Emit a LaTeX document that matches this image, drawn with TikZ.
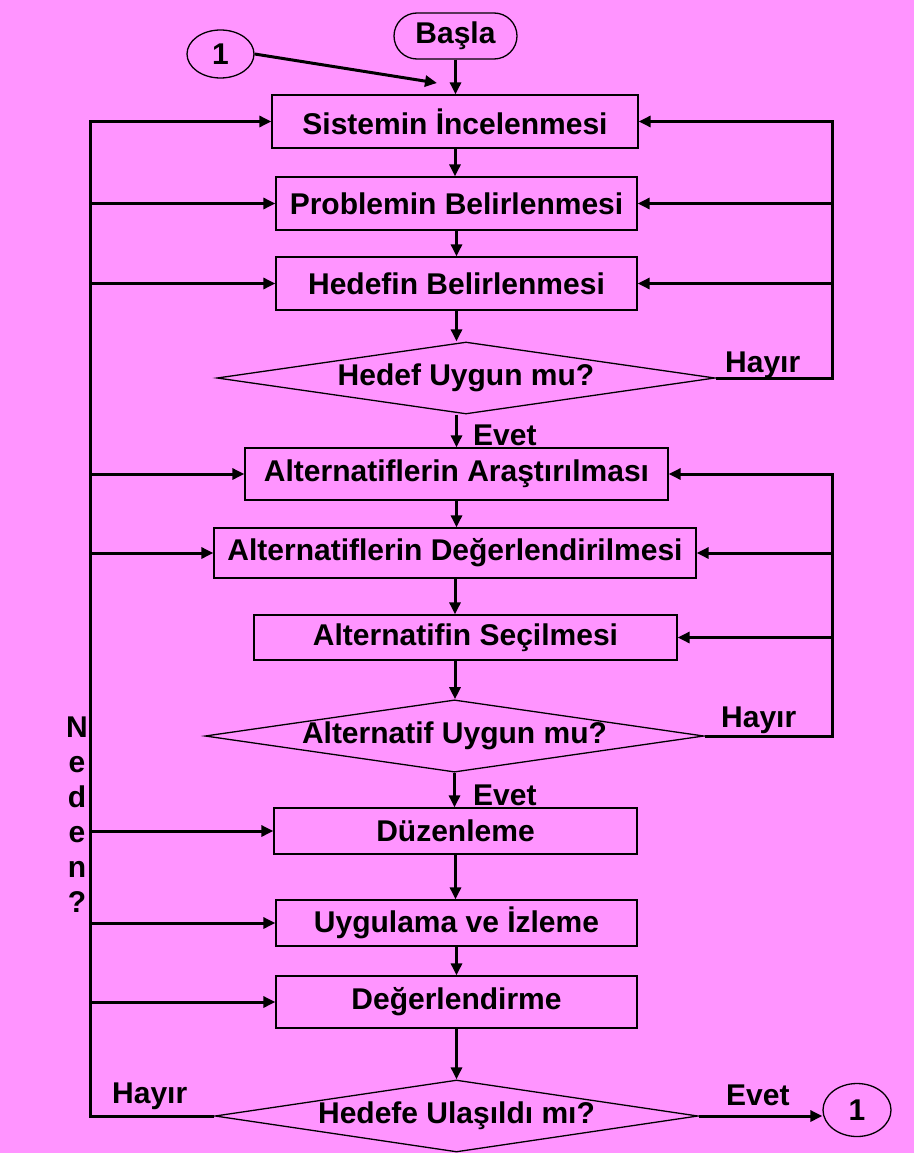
\documentclass[tikz,border=0pt]{standalone}
\usepackage{fontspec}
\setmainfont{Liberation Sans}
\usetikzlibrary{shapes.geometric,arrows.meta}
\definecolor{bgpink}{RGB}{255,148,255}
\begin{document}
\begin{tikzpicture}[x=1pt,y=-1pt,
  txt/.style={font=\fontsize{30}{35}\selectfont\bfseries},
  stepbox/.style={txt, draw, line width=1.3pt, rectangle, inner sep=0pt},
  decision/.style={txt, draw, line width=1.3pt, diamond, inner sep=0pt},
  terminal/.style={txt, draw, line width=1.3pt, inner sep=0pt},
  conn/.style={line width=3pt},
  arr/.style={conn, -{Triangle[length=12pt,width=11pt]}},
  lbl/.style={txt, inner sep=0pt, anchor=base west}]
\fill[bgpink] (0,0) rectangle (914,1153);
\useasboundingbox (0,0) rectangle (914,1153);

% x positions of the two feedback rails
\coordinate (L) at (90,0);
\coordinate (R) at (832,0);

% start and connector markers
\node[terminal, rounded corners=23pt, minimum width=123pt, minimum height=46pt] (start) at (455.5,36) {Başla};
\node[terminal, ellipse, minimum width=67pt, minimum height=48pt] (c1) at (220.5,54) {1};
\coordinate (j) at (437,83);

% process steps and decisions
\node[stepbox, minimum width=366pt, minimum height=53pt] (b1) at (455,121.5) {Sistemin İncelenmesi};
\node[stepbox, minimum width=361pt, minimum height=53pt] (b2) at (456.5,203.5) {Problemin Belirlenmesi};
\node[stepbox, minimum width=361pt, minimum height=53pt] (b3) at (456.5,283.5) {Hedefin Belirlenmesi};
\node[decision, aspect=6.9, minimum width=498pt, minimum height=72pt] (d1) at (466,378) {Hedef Uygun mu?};
\node[stepbox, minimum width=423pt, minimum height=52pt] (b4) at (456.5,474) {Alternatiflerin Araştırılması};
\node[stepbox, minimum width=482pt, minimum height=50pt] (b5) at (455,553) {Alternatiflerin Değerlendirilmesi};
\node[stepbox, minimum width=423pt, minimum height=45pt] (b6) at (465.5,637.5) {Alternatifin Seçilmesi};
\node[decision, aspect=6.9, minimum width=497pt, minimum height=72pt] (d2) at (454.5,736) {Alternatif Uygun mu?};
\node[stepbox, minimum width=363pt, minimum height=46pt] (b7) at (455.5,831) {Düzenleme};
\node[stepbox, minimum width=361pt, minimum height=46pt] (b8) at (456.5,923) {Uygulama ve İzleme};
\node[stepbox, minimum width=361pt, minimum height=52pt] (b9) at (456.5,1002) {Değerlendirme};
\node[decision, aspect=6.7, minimum width=483pt, minimum height=72pt] (d3) at (456.5,1116) {Hedefe Ulaşıldı mı?};
\node[terminal, ellipse, minimum width=68pt, minimum height=53pt] (c2) at (857,1110) {1};

% main flow
\draw[arr] (start.south) -- (start.south |- b1.north);
\draw[arr] (c1.east) -- (j);
\draw[arr] (b1.south) -- (b1.south |- b2.north);
\draw[arr] (b2.south) -- (b2.south |- b3.north);
\draw[arr] (b3.south) -- (b3.south |- d1.north);
\draw[arr] (b4.north |- d1.south) -- (b4.north);
\draw[arr] (b4.south) -- (b4.south |- b5.north);
\draw[arr] (b5.south) -- (b5.south |- b6.north);
\draw[arr] (b6.south -| b5.south) -- (b5.south |- d2.north);
\draw[arr] (d2.south) -- (d2.south |- b7.north);
\draw[arr] (b7.south) -- (b7.south |- b8.north);
\draw[arr] (b8.south) -- (b8.south |- b9.north);
\draw[arr] (b9.south) -- (b9.south |- d3.north);
\draw[arr] (d3.east) -- (d3.east -| c2.west);

% right-hand loops
\draw[arr] (d1.east) -- (d1.east -| R) -- (R |- b1.east) -- (b1.east);
\draw[arr] (R |- b2.east) -- (b2.east);
\draw[arr] (R |- b3.east) -- (b3.east);
\draw[arr] (d2.east) -- (d2.east -| R) -- (R |- b4.east) -- (b4.east);
\draw[arr] (R |- b5.east) -- (b5.east);
\draw[arr] (R |- b6.east) -- (b6.east);

% left-hand loop
\draw[arr] (d3.west) -- (d3.west -| L) -- (L |- b1.west) -- (b1.west);
\draw[arr] (L |- b2.west) -- (b2.west);
\draw[arr] (L |- b3.west) -- (b3.west);
\draw[arr] (L |- b4.west) -- (b4.west);
\draw[arr] (L |- b5.west) -- (b5.west);
\draw[arr] (L |- b7.west) -- (b7.west);
\draw[arr] (L |- b8.west) -- (b8.west);
\draw[arr] (L |- b9.west) -- (b9.west);

% branch labels
\node[lbl] (h1) at (725,372) {Hayır};
\node[lbl] (e1) at (473,445) {Evet};
\node[lbl] (h2) at (721,727) {Hayır};
\node[lbl] (e2) at (473,805) {Evet};
\node[lbl] (h3) at (112,1103) {Hayır};
\node[lbl] (e3) at (726,1105) {Evet};
\node[txt, align=center, anchor=north, inner sep=0pt] (why) at (77,717) {N\\e\\d\\e\\n\\?};
\end{tikzpicture}
\end{document}
